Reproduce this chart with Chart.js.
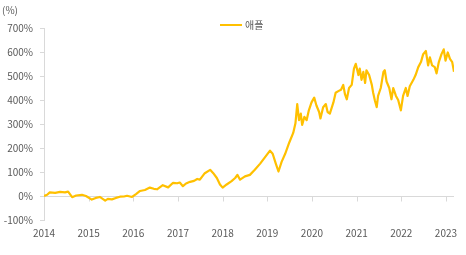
<!DOCTYPE html>
<html>
<head>
<meta charset="utf-8">
<script src="https://cdn.jsdelivr.net/npm/chart.js@4/dist/chart.umd.min.js"></script>
<style>
	html, body { margin: 0; padding: 0; background: #fff; }
</style>
</head>
<body>
<canvas id="chartApple" width="466" height="255"></canvas>
<script>
// Data (x = decimal year, y = cumulative return in %)
const seriesName = "애플";
const years = [
	2014.00, 2014.07, 2014.13, 2014.25, 2014.36, 2014.47, 2014.54, 2014.63, 2014.72, 2014.85,
	2014.94, 2015.07, 2015.16, 2015.25, 2015.37, 2015.43, 2015.52, 2015.61, 2015.70, 2015.79,
	2015.86, 2015.97, 2016.06, 2016.15, 2016.26, 2016.37, 2016.46, 2016.53, 2016.66, 2016.78,
	2016.89, 2016.98, 2017.04, 2017.11, 2017.18, 2017.27, 2017.36, 2017.43, 2017.49, 2017.60,
	2017.72, 2017.79, 2017.87, 2017.94, 2018.00, 2018.09, 2018.20, 2018.28, 2018.33, 2018.39,
	2018.50, 2018.61, 2018.72, 2018.84, 2018.95, 2019.06, 2019.12, 2019.19, 2019.25, 2019.32,
	2019.40, 2019.49, 2019.58, 2019.63, 2019.67, 2019.71, 2019.75, 2019.78, 2019.83, 2019.88,
	2019.93, 2019.99, 2020.05, 2020.10, 2020.16, 2020.19, 2020.25, 2020.31, 2020.35, 2020.40,
	2020.48, 2020.53, 2020.59, 2020.65, 2020.70, 2020.74, 2020.78, 2020.83, 2020.89, 2020.94,
	2020.98, 2021.04, 2021.07, 2021.11, 2021.15, 2021.19, 2021.22, 2021.28, 2021.34, 2021.37,
	2021.41, 2021.45, 2021.48, 2021.54, 2021.60, 2021.63, 2021.67, 2021.73, 2021.78, 2021.82,
	2021.88, 2021.93, 2021.99, 2022.04, 2022.10, 2022.14, 2022.19, 2022.27, 2022.32, 2022.38,
	2022.44, 2022.49, 2022.55, 2022.60, 2022.64, 2022.69, 2022.75, 2022.79, 2022.84, 2022.90,
	2022.95, 2022.99, 2023.04, 2023.09, 2023.14, 2023.18
];
const returns = [
	0, 5, 15, 13, 17, 15, 18, -5, 2, 5,
	0, -15, -8, -4, -19, -12, -14, -8, -3, -2,
	1, -4, 8, 21, 25, 35, 30, 28, 45, 36,
	55, 53, 56, 41, 52, 59, 63, 71, 68, 95,
	109, 95, 75, 48, 35, 48, 62, 75, 88, 68,
	82, 88, 109, 135, 162, 189, 176, 135, 102, 142,
	176, 222, 263, 303, 383, 316, 343, 296, 330, 316,
	357, 390, 410, 377, 350, 323, 370, 383, 350, 343,
	390, 430, 437, 443, 463, 423, 403, 450, 463, 531,
	551, 504, 531, 484, 517, 471, 524, 504, 463, 430,
	397, 370, 417, 450, 517, 524, 477, 450, 403, 450,
	417, 400, 357, 417, 450, 417, 457, 484, 504, 537,
	558, 591, 604, 544, 578, 544, 537, 511, 558, 591,
	611, 564, 598, 571, 558, 518
];
const xMin = 2014;
const xMax = 2023.18;
const yMin = -100;
const yMax = 700;

const lineColor = "#FFC000";
const textColor = "#595959";
const axisColor = "#d9d9d9";
const fontFamily = "'Noto Sans CJK KR', 'Noto Sans', sans-serif";

// axis line at 0% with small tick marks under it (Excel-style crossing)
const zeroAxis = {
	id: "zeroAxis",
	beforeDatasetsDraw(chart) {
		const { ctx, chartArea, scales } = chart;
		const y0 = Math.round(scales.y.getPixelForValue(0)) + 0.5;
		ctx.save();
		ctx.strokeStyle = axisColor;
		ctx.lineWidth = 1;
		ctx.beginPath();
		ctx.moveTo(chartArea.left, y0);
		ctx.lineTo(chartArea.right, y0);
		scales.x.ticks.forEach((t) => {
			const x = Math.round(scales.x.getPixelForValue(t.value)) + 0.5;
			ctx.moveTo(x, y0);
			ctx.lineTo(x, y0 + 5);
		});
		ctx.stroke();
		ctx.restore();
	},
};

// unit label + legend drawn on top, inside the plot band
const extras = {
	id: "extras",
	afterDraw(chart) {
		const { ctx } = chart;
		ctx.save();
		ctx.font = "10px " + fontFamily;
		ctx.fillStyle = textColor;
		ctx.textBaseline = "middle";
		ctx.textAlign = "left";
		ctx.fillText("(%)", 2, 10);

		const ds = chart.data.datasets[0];
		const cx = chart.width / 2 + 8;
		const ly = 25;
		ctx.strokeStyle = ds.borderColor;
		ctx.lineWidth = 2;
		ctx.beginPath();
		ctx.moveTo(cx - 21, ly);
		ctx.lineTo(cx + 1, ly);
		ctx.stroke();
		ctx.fillText(ds.label, cx + 4, ly);
		ctx.restore();
	},
};

const points = years.map((yr, i) => ({ x: yr, y: returns[i] }));

new Chart(document.getElementById("chartApple"), {
	type: "line",
	data: {
		datasets: [
			{
				label: seriesName,
				data: points,
				borderColor: lineColor,
				borderWidth: 2.2,
				borderJoinStyle: "round",
				pointRadius: 0,
				tension: 0,
				fill: false,
			},
		],
	},
	options: {
		responsive: false,
		devicePixelRatio: 1,
		animation: false,
		layout: { padding: { left: 0, right: 12, top: 28, bottom: 9 } },
		plugins: {
			legend: { display: false },
			tooltip: { enabled: false },
		},
		scales: {
			x: {
				type: "linear",
				min: xMin,
				max: xMax,
				grid: { display: false, drawTicks: false },
				border: { display: false },
				ticks: {
					stepSize: 1,
					includeBounds: false,
					padding: 7,
					maxRotation: 0,
					color: textColor,
					font: { family: fontFamily, size: 10 },
					callback: (v) => String(v),
				},
			},
			y: {
				min: yMin,
				max: yMax,
				afterFit: (scale) => { scale.width = 44; },
				grid: { drawOnChartArea: false, tickLength: 4, color: axisColor },
				border: { display: true, color: axisColor },
				ticks: {
					stepSize: 100,
					padding: 7,
					color: textColor,
					font: { family: fontFamily, size: 10 },
					callback: (v) => v + "%",
				},
			},
		},
	},
	plugins: [zeroAxis, extras],
});
</script>
</body>
</html>
